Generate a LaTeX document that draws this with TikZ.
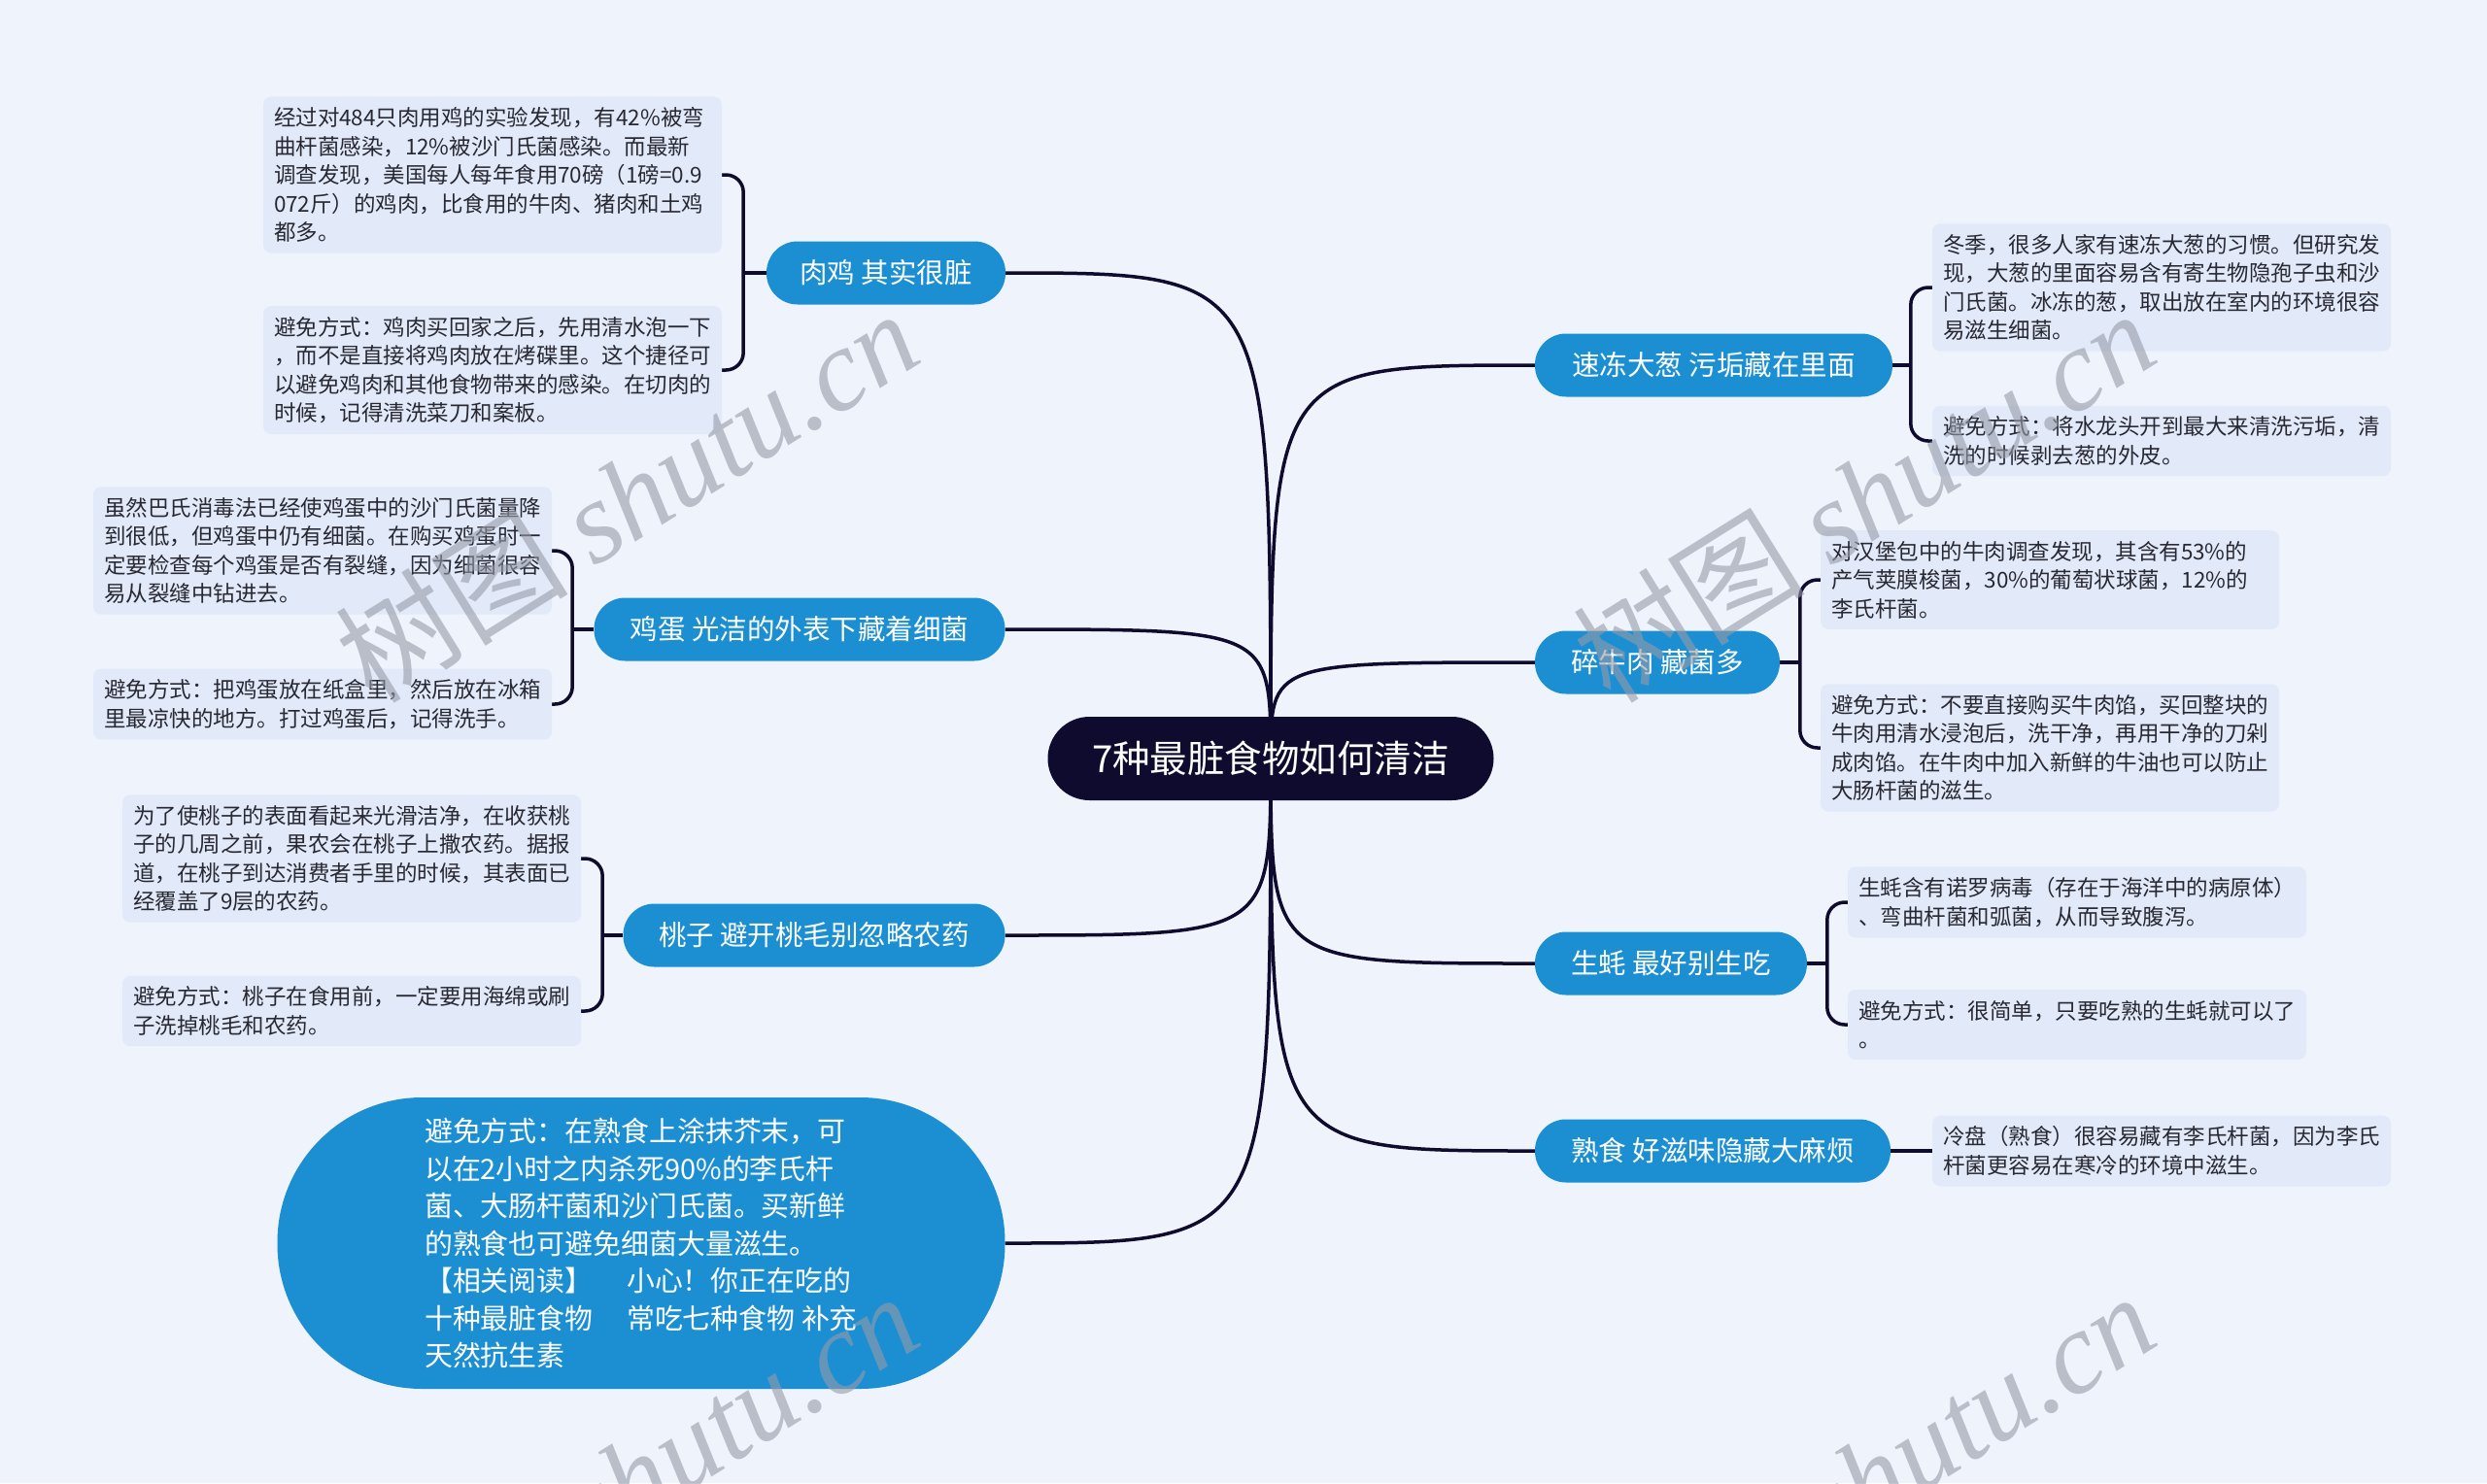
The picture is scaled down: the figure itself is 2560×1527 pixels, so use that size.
\documentclass[tikz,border=0pt]{standalone}
\usepackage{fontspec}
\setmainfont{Noto Sans CJK SC}
\newfontfamily\wmlatin{Liberation Serif}
\usetikzlibrary{calc}
\pgfdeclarelayer{bg}
\pgfdeclarelayer{lines}
\pgfsetlayers{bg,lines,main}
\definecolor{bgc}{RGB}{238,243,252}
\definecolor{leafc}{RGB}{226,234,249}
\definecolor{brc}{RGB}{28,143,210}
\definecolor{rootc}{RGB}{14,11,46}
\definecolor{linec}{RGB}{14,11,46}
\definecolor{leaftext}{RGB}{40,40,50}
\definecolor{wmc}{RGB}{150,155,168}
\tikzset{
  leafbox/.style={fill=leafc, rounded corners=8pt, text width=450pt, align=left,
    inner xsep=11pt, inner ysep=11pt, text=leaftext, font=\fontsize{22.5}{29.4}\selectfont},
  branchbox/.style={fill=brc, text=white, rounded corners=32pt, minimum height=65pt,
    inner sep=0pt, font=\fontsize{28.5}{34}\selectfont},
  rootbox/.style={fill=rootc, text=white, rounded corners=43pt, minimum height=86pt,
    minimum width=459pt, inner sep=0pt, font=\fontsize{38.5}{44}\selectfont},
  bigbox/.style={fill=brc, text=white, rounded corners=149pt, minimum height=300pt,
    minimum width=749pt, inner sep=0pt, align=left, font=\fontsize{28.9}{38.5}\selectfont},
  conn/.style={draw=linec, line width=3.5pt},
  wm/.style={text=wmc, text opacity=0.6, font=\fontsize{120}{120}\selectfont, inner sep=0pt}
}
\begin{document}
\begin{tikzpicture}[x=1pt,y=-1pt]
\useasboundingbox (0,0) rectangle (2560,1527);
\begin{pgfonlayer}{bg}
\fill[bgc] (0,0) rectangle (2560,1527);
\end{pgfonlayer}

% root
\node[rootbox] (root) at (1308,781) {7种最脏食物如何清洁};

% branches
\node[branchbox, minimum width=246pt] (n1) at (912,281) {肉鸡 其实很脏};
\node[branchbox, minimum width=423pt] (n2) at (823,648) {鸡蛋 光洁的外表下藏着细菌};
\node[branchbox, minimum width=393pt] (n3) at (838,963) {桃子 避开桃毛别忽略农药};
\node[bigbox] (n4) at (660,1280) {避免方式：在熟食上涂抹芥末，可\\%
以在2小时之内杀死90\%的李氏杆\\%
菌、大肠杆菌和沙门氏菌。买新鲜\\%
的熟食也可避免细菌大量滋生。\\%
【相关阅读】\hspace{1.2em}小心！你正在吃的\\%
十种最脏食物\hspace{1.2em}常吃七种食物 补充\\%
天然抗生素};
\node[branchbox, minimum width=368pt] (n5) at (1764,376) {速冻大葱 污垢藏在里面};
\node[branchbox, minimum width=252pt] (n6) at (1706,682) {碎牛肉 藏菌多};
\node[branchbox, minimum width=280pt] (n7) at (1720,992) {生蚝 最好别生吃};
\node[branchbox, minimum width=366pt] (n8) at (1763,1185) {熟食 好滋味隐藏大麻烦};

% leaves
\node[leafbox] (a1) at (507,180) {经过对484只肉用鸡的实验发现，有42\%被弯\\%
曲杆菌感染，12\%被沙门氏菌感染。而最新\\%
调查发现，美国每人每年食用70磅（1磅=0.9\\%
072斤）的鸡肉，比食用的牛肉、猪肉和土鸡\\%
都多。};
\node[leafbox] (a2) at (507,381) {避免方式：鸡肉买回家之后，先用清水泡一下\\%
，而不是直接将鸡肉放在烤碟里。这个捷径可\\%
以避免鸡肉和其他食物带来的感染。在切肉的\\%
时候，记得清洗菜刀和案板。};
\node[leafbox] (b1) at (332,567) {虽然巴氏消毒法已经使鸡蛋中的沙门氏菌量降\\%
到很低，但鸡蛋中仍有细菌。在购买鸡蛋时一\\%
定要检查每个鸡蛋是否有裂缝，因为细菌很容\\%
易从裂缝中钻进去。};
\node[leafbox] (b2) at (332,725) {避免方式：把鸡蛋放在纸盒里，然后放在冰箱\\%
里最凉快的地方。打过鸡蛋后，记得洗手。};
\node[leafbox] (c1) at (362,884) {为了使桃子的表面看起来光滑洁净，在收获桃\\%
子的几周之前，果农会在桃子上撒农药。据报\\%
道，在桃子到达消费者手里的时候，其表面已\\%
经覆盖了9层的农药。};
\node[leafbox] (c2) at (362,1041) {避免方式：桃子在食用前，一定要用海绵或刷\\%
子洗掉桃毛和农药。};
\node[leafbox] (d1) at (2225,296) {冬季，很多人家有速冻大葱的习惯。但研究发\\%
现，大葱的里面容易含有寄生物隐孢子虫和沙\\%
门氏菌。冰冻的葱，取出放在室内的环境很容\\%
易滋生细菌。};
\node[leafbox] (d2) at (2225,454) {避免方式：将水龙头开到最大来清洗污垢，清\\%
洗的时候剥去葱的外皮。};
\node[leafbox] (e1) at (2110,597) {对汉堡包中的牛肉调查发现，其含有53\%的\\%
产气荚膜梭菌，30\%的葡萄状球菌，12\%的\\%
李氏杆菌。};
\node[leafbox] (e2) at (2110,770) {避免方式：不要直接购买牛肉馅，买回整块的\\%
牛肉用清水浸泡后，洗干净，再用干净的刀剁\\%
成肉馅。在牛肉中加入新鲜的牛油也可以防止\\%
大肠杆菌的滋生。};
\node[leafbox] (f1) at (2138,929) {生蚝含有诺罗病毒（存在于海洋中的病原体）\\%
、弯曲杆菌和弧菌，从而导致腹泻。};
\node[leafbox] (f2) at (2138,1055) {避免方式：很简单，只要吃熟的生蚝就可以了\\%
。};
\node[leafbox] (g1) at (2225,1185) {冷盘（熟食）很容易藏有李氏杆菌，因为李氏\\%
杆菌更容易在寒冷的环境中滋生。};

% bracket corner coordinates
\coordinate (k1) at ($(a1.east)+(22,0)$);
\coordinate (k2) at ($(b1.east)+(21,0)$);
\coordinate (k3) at ($(c1.east)+(22,0)$);
\coordinate (k5) at ($(d1.west)+(-22,0)$);
\coordinate (k6) at ($(e1.west)+(-21,0)$);
\coordinate (k7) at ($(f1.west)+(-21,0)$);

\begin{pgfonlayer}{lines}
% root to branches
\draw[conn] (root.center) .. controls (root.center |- n1.east) .. (n1.east);
\draw[conn] (root.center) .. controls (root.center |- n2.east) .. (n2.east);
\draw[conn] (root.center) .. controls (root.center |- n3.east) .. (n3.east);
\draw[conn] (root.center) .. controls (root.center |- n4.east) .. (n4.east);
\draw[conn] (root.center) .. controls (root.center |- n5.west) .. (n5.west);
\draw[conn] (root.center) .. controls (root.center |- n6.west) .. (n6.west);
\draw[conn] (root.center) .. controls (root.center |- n7.west) .. (n7.west);
\draw[conn] (root.center) .. controls (root.center |- n8.west) .. (n8.west);
% brackets left
\draw[conn, rounded corners=18pt] (a1.east) -- (k1) |- (a2.east);
\draw[conn] (k1 |- n1.west) -- (n1.west);
\draw[conn, rounded corners=18pt] (b1.east) -- (k2) |- (b2.east);
\draw[conn] (k2 |- n2.west) -- (n2.west);
\draw[conn, rounded corners=18pt] (c1.east) -- (k3) |- (c2.east);
\draw[conn] (k3 |- n3.west) -- (n3.west);
% brackets right
\draw[conn, rounded corners=18pt] (d1.west) -- (k5) |- (d2.west);
\draw[conn] (n5.east) -- (k5 |- n5.east);
\draw[conn, rounded corners=18pt] (e1.west) -- (k6) |- (e2.west);
\draw[conn] (n6.east) -- (k6 |- n6.east);
\draw[conn, rounded corners=18pt] (f1.west) -- (k7) |- (f2.west);
\draw[conn] (n7.east) -- (k7 |- n7.east);
\draw[conn] (n8.east) -- (g1.west);
\end{pgfonlayer}

% watermarks
\begin{scope}
\clip (0,0) rectangle (2560,1527);
\node[wm, rotate=32] (w1) at (645,510) {树图 {\wmlatin\itshape shutu.cn}};
\node[wm, rotate=32] (w2) at (1918,510) {树图 {\wmlatin\itshape shutu.cn}};
\node[wm, rotate=32] (w3) at (645,1522) {树图 {\wmlatin\itshape shutu.cn}};
\node[wm, rotate=32] (w4) at (1918,1522) {树图 {\wmlatin\itshape shutu.cn}};
\end{scope}
\end{tikzpicture}
\end{document}
